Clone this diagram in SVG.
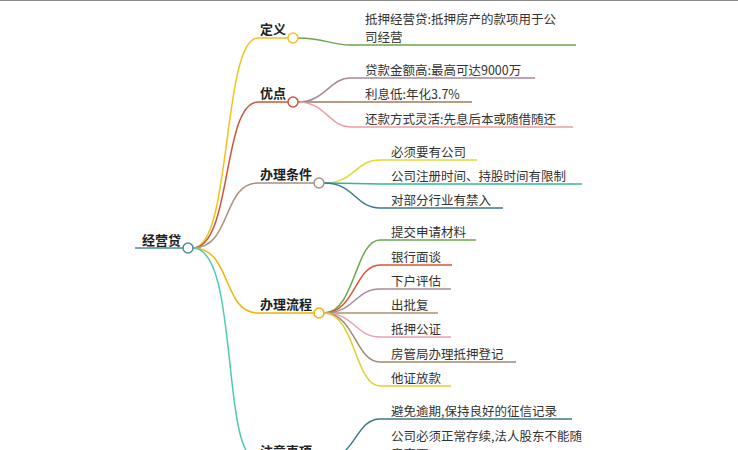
<svg xmlns="http://www.w3.org/2000/svg" width="738" height="450" viewBox="0 0 738 450">
<style>
text{font-family:"Noto Sans CJK SC","Noto Sans",sans-serif;font-size:12.5px;fill:#333}
.p{font-weight:bold;font-size:13px;fill:#222}
path{fill:none;stroke-width:1.5}
circle{fill:#fff;stroke-width:1.5}
</style>
<rect width="738" height="450" fill="#fff"/>
<line x1="0" y1="0.5" x2="738" y2="0.5" stroke="#888" stroke-width="1"/>
<g id="connectors">
<path d="M135,248 L183,248" stroke="#4a8aa0"/>
<path d="M193,248 C232,248 222,38 258,38 L288,38" stroke="#f2c21b"/>
<path d="M193,248 C232,248 222,102 258,102 L288,102" stroke="#c9553a"/>
<path d="M193,248 C232,248 222,183 258,183 L314,183" stroke="#a89080"/>
<path d="M193,248 C232,248 222,313 258,313 L314,313" stroke="#f0b400"/>
<path d="M193,248 C240,248 220,460 258,460 L314,460" stroke="#4fc9b0"/>
<path d="M298,38 C325,38 330,45 350,45 L576,45" stroke="#6aa84f"/>
<path d="M298,102 C325,102 330,78 350,78 L535,78" stroke="#a88a9c"/>
<path d="M298,102 L472,102" stroke="#a07a5a"/>
<path d="M298,102 C325,102 330,127 350,127 L573,127" stroke="#eaa0a0"/>
<path d="M324,183 C355,183 355,160 380,160 L477,160" stroke="#e0dc30"/>
<path d="M324,183 C355,183 355,184 380,184 L582,184" stroke="#35b898"/>
<path d="M324,183 C355,183 355,208 380,208 L503,208" stroke="#3d7a8c"/>
<path d="M324,313 C355,313 355,240 380,240 L476,240" stroke="#6aa84f"/>
<path d="M324,313 C355,313 355,265 380,265 L452,265" stroke="#d9553a"/>
<path d="M324,313 C355,313 355,289 380,289 L451,289" stroke="#a88a9c"/>
<path d="M324,313 L438,313" stroke="#b09070"/>
<path d="M324,313 C355,313 355,337 380,337 L451,337" stroke="#eaa0b0"/>
<path d="M324,313 C355,313 355,362 380,362 L516,362" stroke="#a08a70"/>
<path d="M324,313 C355,313 355,386 380,386 L451,386" stroke="#e0d030"/>
<path d="M324,460 C355,460 355,419 380,419 L572,419" stroke="#3d7a8c"/>
<path d="M324,460 C355,460 355,470 380,470 L590,470" stroke="#4fc9b0"/>
</g>
<g id="root"><text class="p" x="142" y="245">经营贷</text><circle cx="188" cy="248" r="5" stroke="#4a8aa0"/></g>
<g id="n1"><text class="p" x="260" y="34">定义</text><circle cx="293" cy="38" r="5" stroke="#f2c21b"/></g>
<g id="n2"><text class="p" x="260" y="98">优点</text><circle cx="293" cy="102" r="5" stroke="#c9553a"/></g>
<g id="n3"><text class="p" x="260" y="179">办理条件</text><circle cx="319" cy="183" r="5" stroke="#a89080"/></g>
<g id="n4"><text class="p" x="260" y="309">办理流程</text><circle cx="319" cy="313" r="5" stroke="#f0b400"/></g>
<g id="n5"><text class="p" x="260" y="456">注意事项</text><circle cx="319" cy="460" r="5" stroke="#4fc9b0"/></g>
<g id="c1"><text x="365" y="24">抵押经营贷:抵押房产的款项用于公</text><text x="365" y="42">司经营</text></g>
<g id="c2"><text x="365" y="75">贷款金额高:最高可达9000万</text></g>
<g id="c3"><text x="365" y="99">利息低:年化3.7%</text></g>
<g id="c4"><text x="365" y="124">还款方式灵活:先息后本或随借随还</text></g>
<g id="c5"><text x="391" y="157">必须要有公司</text></g>
<g id="c6"><text x="391" y="181">公司注册时间、持股时间有限制</text></g>
<g id="c7"><text x="391" y="205">对部分行业有禁入</text></g>
<g id="c8"><text x="391" y="237">提交申请材料</text></g>
<g id="c9"><text x="391" y="262">银行面谈</text></g>
<g id="c10"><text x="391" y="286">下户评估</text></g>
<g id="c11"><text x="391" y="310">出批复</text></g>
<g id="c12"><text x="391" y="334">抵押公证</text></g>
<g id="c13"><text x="391" y="359">房管局办理抵押登记</text></g>
<g id="c14"><text x="391" y="383">他证放款</text></g>
<g id="c15"><text x="391" y="416">避免逾期,保持良好的征信记录</text></g>
<g id="c16"><text x="391" y="441">公司必须正常存续,法人股东不能随</text><text x="391" y="459">意变更</text></g>
</svg>
